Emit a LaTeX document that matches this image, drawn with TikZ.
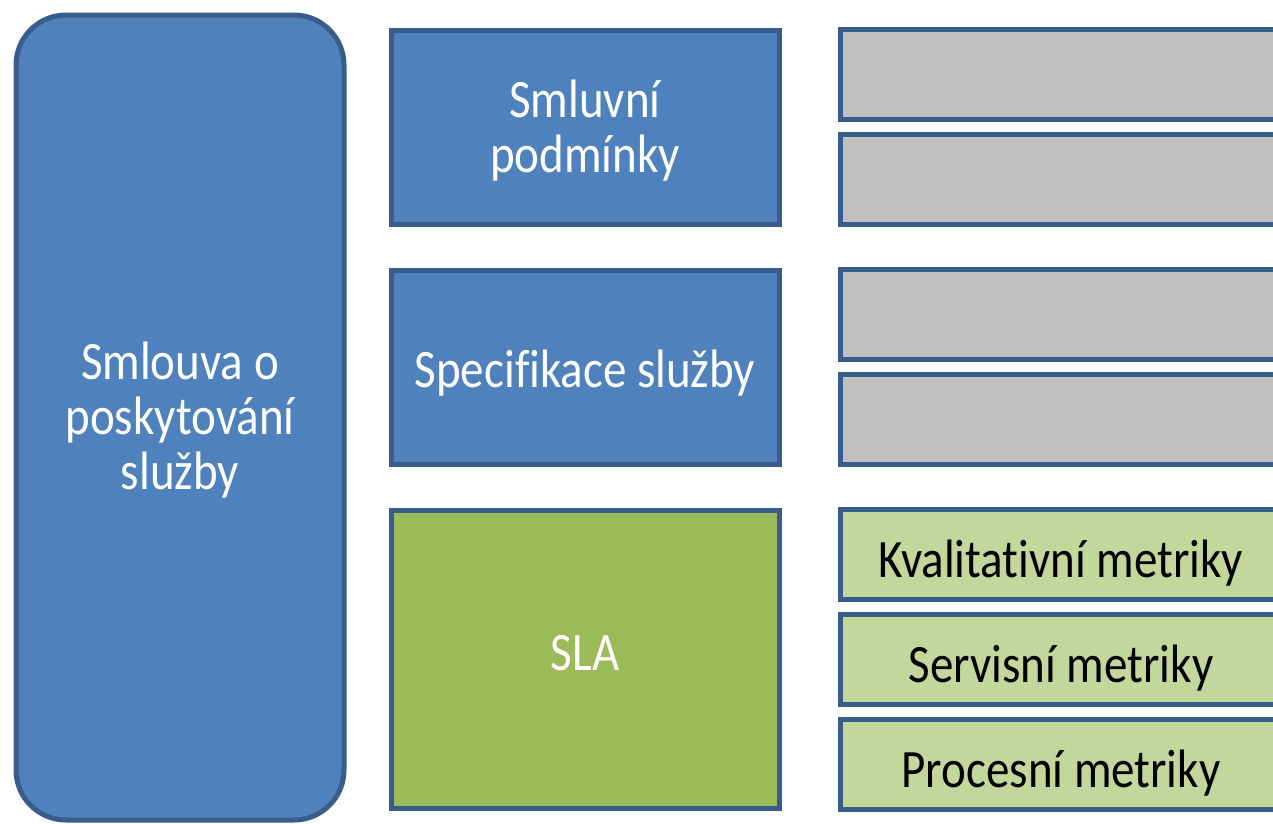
\documentclass[tikz,border=0pt]{standalone}
\usepackage{fontspec}
\setmainfont{Carlito}[Ligatures=NoCommon]
\usepackage{graphicx}
\usepackage{tikz}
\definecolor{boxblue}{HTML}{4F81BD}
\definecolor{edgeblue}{HTML}{385D8A}
\definecolor{slagreen}{HTML}{9BBB59}
\definecolor{metricgreen}{HTML}{C3D69B}
\definecolor{boxgray}{HTML}{BFBFBF}
\newcommand{\boxtext}[1]{\scalebox{1}[1.15]{\begin{tabular}{@{}c@{}}#1\end{tabular}}}
\tikzset{box/.style = {draw=edgeblue, line width=5pt, inner sep=0pt,
                       font=\fontsize{47}{48}\selectfont}}
\tikzset{bluebox/.style = {box, fill=boxblue, text=white,
                           minimum width=388pt, minimum height=194pt}}
\tikzset{sidebox/.style = {box, minimum width=442pt, minimum height=90pt}}
\tikzset{oneline/.style = {text height=39pt, text depth=0pt}}

\begin{document}
\begin{tikzpicture}[x=1pt, y=-1pt]
    \useasboundingbox (0, 0) rectangle (1273, 823);
    \clip (0, 0) rectangle (1273, 823);

    \node [box, fill=boxblue, text=white, rounded corners=50pt,
           minimum width=328pt, minimum height=805pt, text height=102pt] (contract) at (180, 417.5)
          {\boxtext{Smlouva o\\poskytování\\služby}};

    \node [bluebox, text height=77pt] (terms) at (585, 127) {\boxtext{Smluvní\\podmínky}};
    \node [bluebox, oneline, text height=33pt] (spec) at (585, 367) {\boxtext{Specifikace služby}};
    \node [bluebox, fill=slagreen, minimum height=298pt] (sla) at (585, 659) {\boxtext{SLA}};

    \foreach \y [count=\i] in {74, 179.5, 314, 419.5} {
      \node [sidebox, fill=boxgray] (gray\i) at (1061, \y) {};
    }

    \node [sidebox, oneline, fill=metricgreen] (quality) at (1061, 554) {\boxtext{Kvalitativní metriky}};
    \node [sidebox, oneline, fill=metricgreen] (service) at (1061, 659.5) {\boxtext{Servisní metriky}};
    \node [sidebox, oneline, fill=metricgreen] (process) at (1061, 764) {\boxtext{Procesní metriky}};
  \end{tikzpicture}
\end{document}
